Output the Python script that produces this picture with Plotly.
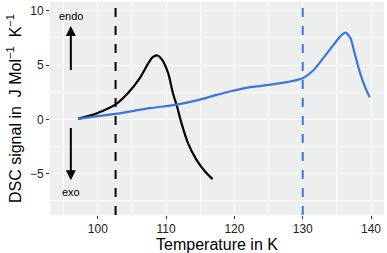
import plotly.graph_objects as go

# Black curve (DSC sample 1)
black_T = [97.1, 99.6, 102.5, 104.4, 106.15, 107.4, 108.0, 108.7, 109.4, 110.3, 111.0, 111.6, 112.25, 113.2, 114.45, 115.7, 116.8]
black_S = [0.05, 0.48, 1.33, 2.41, 3.79, 5.17, 5.7, 5.88, 5.5, 4.25, 2.41, 1.18, -0.35, -2.19, -3.73, -4.8, -5.5]

# Blue curve (DSC sample 2)
blue_T = [97.1, 100.0, 102.6, 107.6, 111.3, 114.5, 117.4, 119.3, 122.3, 126.8, 130.0, 131.6, 133.0, 134.5, 135.7, 136.3, 137.0, 137.6, 138.4, 139.1, 139.8]
blue_S = [0.05, 0.3, 0.5, 1.03, 1.33, 1.75, 2.25, 2.56, 2.96, 3.33, 3.79, 4.55, 5.63, 6.85, 7.77, 7.98, 7.47, 6.09, 4.25, 3.02, 2.04]

# Vertical dashed marker temperatures
vline_T = [102.6, 130.0]
vline_colors = ["black", "#3A75E0"]

x_ticks = [100, 110, 120, 130, 140]
y_ticks = [-5, 0, 5, 10]

fig = go.Figure()
fig.add_trace(go.Scatter(x=black_T, y=black_S, mode="lines",
                         line=dict(color="black", width=2.2, shape="spline", smoothing=0.6)))
fig.add_trace(go.Scatter(x=blue_T, y=blue_S, mode="lines",
                         line=dict(color="#3A75E0", width=2.2, shape="spline", smoothing=0.6)))

for t, c in zip(vline_T, vline_colors):
    fig.add_shape(type="line", xref="x", yref="paper", x0=t, x1=t, y0=0, y1=1,
                  line=dict(color=c, width=2, dash="dash"), layer="above")

# endo / exo arrows
fig.add_annotation(x=96.05, y=8.6, ax=96.05, ay=4.4, xref="x", yref="y", axref="x", ayref="y",
                   showarrow=True, arrowhead=2, arrowsize=1, arrowwidth=2, arrowcolor="black", text="")
fig.add_annotation(x=96.05, y=-5.6, ax=96.05, ay=-0.65, xref="x", yref="y", axref="x", ayref="y",
                   showarrow=True, arrowhead=2, arrowsize=1, arrowwidth=2, arrowcolor="black", text="")
fig.add_annotation(x=96.05, y=9.5, text="endo", showarrow=False, font=dict(size=11, color="black"))
fig.add_annotation(x=96.05, y=-6.65, text="exo", showarrow=False, font=dict(size=11, color="black"))

fig.update_layout(
    width=387, height=253,
    margin=dict(l=50, r=3, t=2, b=38),
    paper_bgcolor="white", plot_bgcolor="#EDEFEF",
    showlegend=False,
    font=dict(family="Liberation Sans, Arial, sans-serif", color="black"),
)
fig.update_xaxes(range=[93.0, 141.9], tickvals=x_ticks, ticks="outside", ticklen=3,
                 tickcolor="#333333", tickfont=dict(size=12, color="#222222"),
                 showgrid=True, gridcolor="white", gridwidth=1.3, zeroline=False,
                 minor=dict(dtick=5, tick0=95, showgrid=True, gridcolor="white", gridwidth=0.6),
                 title=dict(text="Temperature in K", font=dict(size=16), standoff=2))
fig.update_yaxes(range=[-8.8, 10.8], tickvals=y_ticks, ticks="outside", ticklen=3,
                 tickcolor="#333333", tickfont=dict(size=12, color="#222222"),
                 showgrid=True, gridcolor="white", gridwidth=1.3, zeroline=False,
                 minor=dict(dtick=2.5, tick0=-7.5, showgrid=True, gridcolor="white", gridwidth=0.6),
                 title=dict(text="DSC signal in  J Mol<sup>\u22121</sup>  K<sup>\u22121</sup>",
                            font=dict(size=16), standoff=4))

fig.write_html("out.html", config={"displayModeBar": False},
               post_script="document.body.style.margin='0';document.body.style.overflow='hidden';")
